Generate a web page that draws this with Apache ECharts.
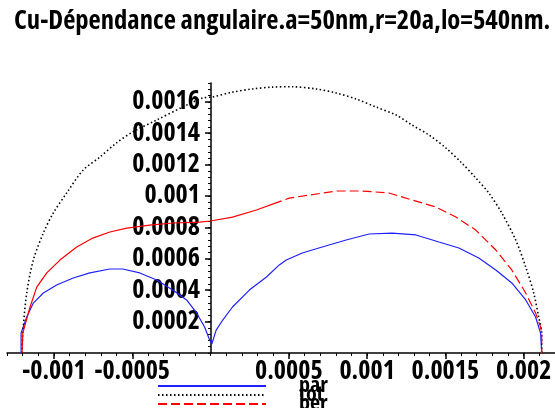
<!DOCTYPE html>
<html>
<head>
<meta charset="utf-8">
<script src="https://cdn.jsdelivr.net/npm/echarts@6/dist/echarts.min.js"></script>
<style>
  html, body { margin: 0; padding: 0; background: #fff; }
  #main { width: 555px; height: 408px; }
</style>
</head>
<body>
<div id="main"></div>
<script>
// titre et legende
var titleText = 'Cu-Dépendance angulaire.a=50nm,r=20a,lo=540nm.';
var seriesNames = ['par', 'tot', 'per'];

// courbes polaires, en [x, y]
var parPoints = [
  [-0.001210, 0], [-0.001210, 0.000127], [-0.001174, 0.000229], [-0.001132, 0.000318],
  [-0.001068, 0.000382], [-0.000983, 0.000433], [-0.000877, 0.000478], [-0.000771, 0.000510],
  [-0.000643, 0.000535], [-0.000561, 0.000535], [-0.000452, 0.000510], [-0.000344, 0.000465],
  [-0.000242, 0.000401], [-0.000153, 0.000338], [-0.000089, 0.000255], [-0.000038, 0.000166],
  [-0.000006, 0.000083], [0.000008, 0.000057], [0.000036, 0.000146], [0.000078, 0.000210],
  [0.000140, 0.000293], [0.000248, 0.000401], [0.000357, 0.000484], [0.000439, 0.000561],
  [0.000484, 0.000592], [0.000586, 0.000637], [0.000713, 0.000675], [0.000866, 0.000720],
  [0.001013, 0.000758], [0.001159, 0.000764], [0.001312, 0.000752], [0.001459, 0.000707],
  [0.001586, 0.000669], [0.001713, 0.000605], [0.001822, 0.000529], [0.001924, 0.000446],
  [0.002013, 0.000338], [0.002076, 0.000229], [0.002108, 0.000127], [0.002115, 0]
];
var totPoints = [
  [-0.001204, 0], [-0.001199, 0.000127], [-0.001174, 0.000382], [-0.001132, 0.000592],
  [-0.001068, 0.000764], [-0.001004, 0.000892], [-0.000919, 0.001019], [-0.000813, 0.001166],
  [-0.000707, 0.001248], [-0.000601, 0.001338], [-0.000497, 0.001408], [-0.000344, 0.001484],
  [-0.000178, 0.001567], [-0.000051, 0.001624], [0.000013, 0.001631], [0.000140, 0.001662],
  [0.000268, 0.001682], [0.000395, 0.001694], [0.000522, 0.001696], [0.000675, 0.001682],
  [0.000803, 0.001656], [0.000930, 0.001618], [0.001057, 0.001567], [0.001185, 0.001516],
  [0.001287, 0.001452], [0.001395, 0.001389], [0.001503, 0.001306], [0.001605, 0.001210],
  [0.001694, 0.001115], [0.001777, 0.001019], [0.001860, 0.000892], [0.001949, 0.000720],
  [0.002013, 0.000548], [0.002064, 0.000382], [0.002096, 0.000229], [0.002115, 0.000127],
  [0.002115, 0]
];
// per : partie gauche (trait quasi continu) et partie droite (tirets)
var perLeftPoints = [
  [-0.001204, 0], [-0.001199, 0.000127], [-0.001153, 0.000293], [-0.001110, 0.000420],
  [-0.001046, 0.000510], [-0.000962, 0.000592], [-0.000855, 0.000675], [-0.000752, 0.000732],
  [-0.000643, 0.000771], [-0.000535, 0.000796], [-0.000389, 0.000815], [-0.000242, 0.000828],
  [-0.000070, 0.000834], [0, 0.000841], [0.000140, 0.000866], [0.000293, 0.000911],
  [0.000400, 0.000950]
];
var perRightPoints = [
  [0.000400, 0.000950], [0.000503, 0.000987], [0.000631, 0.001006], [0.000803, 0.001032],
  [0.000968, 0.001032], [0.001140, 0.001019], [0.001287, 0.000975], [0.001439, 0.000930],
  [0.001567, 0.000866], [0.001694, 0.000783], [0.001822, 0.000656], [0.001924, 0.000529],
  [0.002013, 0.000382], [0.002076, 0.000255], [0.002108, 0.000166], [0.002115, 0.000127],
  [0.002115, 0]
];

// graduations
var xTickLabels = [-0.001, -0.0005, 0.0005, 0.001, 0.0015, 0.002];
var yTickLabels = [0.0002, 0.0004, 0.0006, 0.0008, 0.001, 0.0012, 0.0014, 0.0016];

// Open Sans en largeur "condensed" (police etroite, comme Maple)
var font = '"Open Sans", sans-serif';
var weight = 'bold condensed';
var gridBox = { left: 7, right: -1, top: 83, bottom: 55 };

// une legende par serie, decalees de 9px (les textes se chevauchent comme dans Maple)
function makeLegend(name, i) {
  return {
    data: [name],
    orient: 'vertical',
    left: 157,
    top: 375 + i * 9,
    height: 60,
    padding: 0,
    itemWidth: 108,
    itemHeight: 9,
    itemStyle: { opacity: 0 },
    selectedMode: false,
    textStyle: {
      fontFamily: font, fontSize: 22, fontWeight: weight, color: '#000',
      lineHeight: 9, padding: [0, 0, 0, 28]
    }
  };
}

var chart = echarts.init(document.getElementById('main'));

var option = {
  backgroundColor: '#fff',
  animation: false,
  title: {
    text: titleText,
    left: 9,
    top: 3,
    textStyle: { fontFamily: font, fontSize: 26.6, fontWeight: weight, color: '#000' }
  },
  legend: seriesNames.map(makeLegend),
  grid: [
    Object.assign({}, gridBox),
    Object.assign({}, gridBox)
  ],
  xAxis: [
    {
      gridIndex: 0, type: 'value', min: -0.0013, max: 0.0022, interval: 0.0001,
      splitLine: { show: false },
      axisLine: { onZero: false, lineStyle: { color: '#000', width: 1.5 } },
      axisTick: { length: 3, lineStyle: { color: '#000', width: 1 } },
      axisLabel: {
        customValues: xTickLabels, margin: 6, hideOverlap: false,
        fontFamily: font, fontSize: 26, fontWeight: weight, color: '#000'
      }
    },
    {
      gridIndex: 1, type: 'value', min: -0.0013, max: 0.0022,
      splitLine: { show: false },
      axisLine: { show: false },
      axisTick: { customValues: xTickLabels, length: 6, lineStyle: { color: '#000', width: 1.5 } },
      axisLabel: { show: false }
    }
  ],
  yAxis: [
    {
      gridIndex: 0, type: 'value', min: 0, max: 0.00172, interval: 0.00004,
      position: 'left', offset: -204,
      splitLine: { show: false },
      axisLine: { onZero: false, lineStyle: { color: '#000', width: 1.5 } },
      axisTick: { length: 3, lineStyle: { color: '#000', width: 1 } },
      axisLabel: {
        customValues: yTickLabels, margin: 11, hideOverlap: false,
        fontFamily: font, fontSize: 26, fontWeight: weight, color: '#000'
      }
    },
    {
      gridIndex: 1, type: 'value', min: 0, max: 0.00172,
      position: 'left', offset: -204,
      splitLine: { show: false },
      axisLine: { show: false },
      axisTick: { customValues: yTickLabels, length: 6, lineStyle: { color: '#000', width: 1.5 } },
      axisLabel: { show: false }
    }
  ],
  series: [
    {
      name: 'par', type: 'line', data: parPoints, symbol: 'none',
      lineStyle: { color: '#2020ff', width: 1.2 }, itemStyle: { color: '#2020ff' }
    },
    {
      name: 'tot', type: 'line', data: totPoints, symbol: 'none', smooth: 0.3,
      lineStyle: { color: '#000', width: 1.6, type: [1.5, 2.5] }, itemStyle: { color: '#000' }
    },
    {
      name: 'per', type: 'line', data: perRightPoints, symbol: 'none',
      lineStyle: { color: '#ff0000', width: 1.2, type: [9, 4] }, itemStyle: { color: '#ff0000' }
    },
    {
      name: 'per-g', type: 'line', data: perLeftPoints, symbol: 'none',
      lineStyle: { color: '#ff0000', width: 1.2 }, itemStyle: { color: '#ff0000' }
    }
  ]
};

chart.setOption(option);
</script>
</body>
</html>
